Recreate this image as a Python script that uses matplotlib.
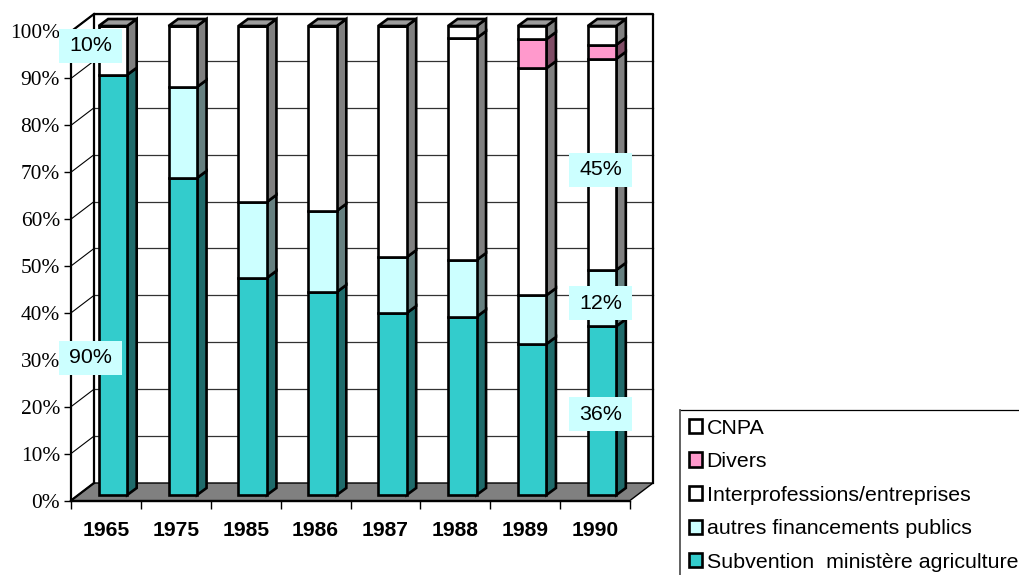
import matplotlib
matplotlib.use("Agg")
import matplotlib.pyplot as plt
import numpy as np
from matplotlib.lines import Line2D
from matplotlib.patches import Polygon, Rectangle

# Data
years = ["1965", "1975", "1985", "1986", "1987", "1988", "1989", "1990"]
subvention = [89.6, 67.6, 46.3, 43.3, 38.8, 38, 32.2, 36]
autres = [0, 19.4, 16.2, 17.3, 11.9, 12.1, 10.4, 12]
interpro = [10.4, 13, 37.5, 39.4, 49.3, 47.3, 48.4, 45]
divers = [0, 0, 0, 0, 0, 0, 6.2, 3]
cnpa = [0, 0, 0, 0, 0, 2.6, 2.8, 4]

series_names = ["Subvention  ministère agriculture", "autres financements publics",
                "Interprofessions/entreprises", "Divers", "CNPA"]
series_values = [subvention, autres, interpro, divers, cnpa]
front_colors = ["#33cccc", "#ccffff", "#ffffff", "#ff99cc", "#ffffff"]
side_colors = ["#1f6b6b", "#668080", "#808080", "#804d66", "#808080"]

label_texts = ["10%", "90%", "45%", "12%", "36%"]
label_x = [-0.22, -0.22, 7.08, 7.08, 7.08]
label_y = [97, 30.4, 70.5, 42.1, 18.4]

W, H = 1020, 575
fig = plt.figure(figsize=(W / 100, H / 100), dpi=100, facecolor="white")
# front plane of the chart: 71-630 px across, 0% at 500.5 px, 100% at 31.5 px
ax = fig.add_axes([71 / W, 1 - 500.5 / H, 559 / W, 469 / H])
ax.set_xlim(-0.5, 7.5)
ax.set_ylim(0, 100)

px_x = 8 / 559
px_y = 100 / 469
back_dx, back_dy = 23 * px_x, 17.5 * px_y
bar_dx, bar_dy = 7 * px_x, 5.5 * px_y
side_dx, side_dy = 9.5 * px_x, 7 * px_y
bar_w = 28.5 * px_x
BLACK_LW = 1.9

xmin, xmax = -0.5, 7.5

# floor and walls
ax.add_patch(Polygon([(xmin, 0), (xmax, 0), (xmax + back_dx, back_dy), (xmin + back_dx, back_dy)],
                     closed=True, fc="#808080", ec="black", lw=1, clip_on=False, zorder=1))
for v in range(10, 101, 10):
    ax.plot([xmin + back_dx, xmax + back_dx], [v + back_dy] * 2, color="#333333", lw=0.9,
            clip_on=False, zorder=1)
    ax.plot([xmin, xmin + back_dx], [v, v + back_dy], color="black", lw=0.8, clip_on=False, zorder=1)
ax.plot([xmin + back_dx, xmin + back_dx, xmax + back_dx, xmax + back_dx],
        [back_dy, 100 + back_dy, 100 + back_dy, back_dy], color="black", lw=1.6,
        clip_on=False, zorder=1.5)
ax.plot([xmin, xmin + back_dx], [100, 100 + back_dy], color="black", lw=1.6, clip_on=False, zorder=1.5)
ax.plot([xmin, xmin + back_dx], [0, back_dy], color="black", lw=1.6, clip_on=False, zorder=1.5)

# stacked bars with depth faces
x = np.arange(len(years))
bottom = np.zeros(len(years))
for name, vals, fc, sc in zip(series_names, series_values, front_colors, side_colors):
    vals = np.array(vals, dtype=float)
    ax.bar(x + bar_dx, vals, bar_w, bottom=bottom + bar_dy, color=fc, edgecolor="black",
           linewidth=BLACK_LW, label=name, clip_on=False, zorder=3)
    for i in x:
        if vals[i] == 0:
            continue
        xr = i + bar_dx + bar_w / 2
        y0 = bottom[i] + bar_dy
        y1 = y0 + vals[i]
        ax.add_patch(Polygon([(xr, y0), (xr + side_dx, y0 + side_dy), (xr + side_dx, y1 + side_dy), (xr, y1)],
                             closed=True, fc=sc, ec="black", lw=BLACK_LW, clip_on=False, zorder=2.5))
    bottom += vals

for i in x:
    xl = i + bar_dx - bar_w / 2
    xr = i + bar_dx + bar_w / 2
    top = bottom[i] + bar_dy
    ax.add_patch(Polygon([(xl, top), (xr, top), (xr + side_dx, top + side_dy), (xl + side_dx, top + side_dy)],
                         closed=True, fc="#9c9c9c", ec="black", lw=BLACK_LW, clip_on=False, zorder=2.6))

# value labels in pale boxes
box_w, box_h = 63 * px_x, 34 * px_y
for txt, lx, ly in zip(label_texts, label_x, label_y):
    ax.add_patch(Rectangle((lx - box_w / 2, ly - box_h / 2), box_w, box_h, fc="#ccffff", ec="none",
                           clip_on=False, zorder=5))
    ax.text(lx, ly, txt, ha="center", va="center", family="Liberation Sans", fontsize=15.4,
            color="black", zorder=6)

# axes
for s in ["top", "right"]:
    ax.spines[s].set_visible(False)
ax.spines["left"].set_linewidth(1.6)
ax.spines["bottom"].set_linewidth(1)
ax.set_yticks(range(0, 101, 10))
ax.set_yticklabels([f"{v}%" for v in range(0, 101, 10)], family="Liberation Serif", fontsize=15.4)
ax.tick_params(axis="y", length=5, width=1, pad=3)
ax.set_xticks(x)
ax.set_xticklabels(years, family="Liberation Sans", fontsize=15.2, fontweight="bold")
ax.set_xticks(np.arange(-0.5, 8, 1), minor=True)
ax.tick_params(axis="x", which="major", length=0, pad=15)
ax.tick_params(axis="x", which="minor", length=6, width=1)

# legend: only the top and left edges of its frame are inside the picture
handles, names = ax.get_legend_handles_labels()
leg = fig.legend(handles[::-1], names[::-1], loc="upper left",
                 bbox_to_anchor=(680 / W, 1 - 410 / H), borderaxespad=0,
                 prop={"family": "Liberation Sans", "size": 15.4},
                 handlelength=0.65, handleheight=0.65, handletextpad=0.2,
                 labelspacing=0.68, borderpad=0.4, frameon=False)
fig.add_artist(Line2D([680 / W, 1], [1 - 410 / H] * 2, color="black", lw=0.9))
fig.add_artist(Line2D([680 / W] * 2, [0, 1 - 410 / H], color="#555555", lw=1.3))

fig.savefig("out.png", dpi=100)
